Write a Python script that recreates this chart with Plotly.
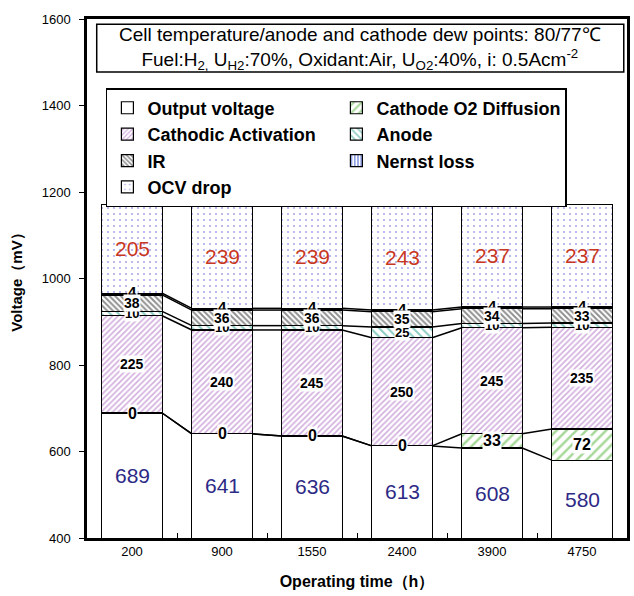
import plotly.graph_objects as go

# ---------------- data ----------------
categories = ["200", "900", "1550", "2400", "3900", "4750"]
output_voltage = [689, 641, 636, 613, 608, 580]
cathode_o2 = [0, 0, 0, 0, 33, 72]
cathodic_act = [225, 240, 245, 250, 245, 235]
anode = [10, 10, 10, 25, 10, 10]
ir_loss = [38, 36, 36, 35, 34, 33]
nernst = [4, 4, 4, 4, 4, 4]
ocv_drop = [205, 239, 239, 243, 237, 237]

series_names = ["Output voltage", "Cathode O2 Diffusion", "Cathodic Activation",
                "Anode", "IR", "Nernst loss", "OCV drop"]
series_vals = [output_voltage, cathode_o2, cathodic_act, anode, ir_loss, nernst, ocv_drop]

y_range = [400, 1600]
bar_gap = 0.33
SANS = "Liberation Sans, Arial"

patterns = [
    dict(shape=""),
    dict(shape="/", fgcolor="#4cb030", size=7, solidity=0.35, fillmode="overlay"),
    dict(shape="/", fgcolor="#a65dbd", size=4, solidity=0.4, fillmode="overlay"),
    dict(shape="\\", fgcolor="#1f9a8a", size=6, solidity=0.35, fillmode="overlay"),
    dict(shape="\\", fgcolor="#222222", size=4, solidity=0.5, fillmode="overlay"),
    dict(shape="|", fgcolor="#2244cc", size=4, solidity=0.5, fillmode="overlay"),
    dict(shape=".", fgcolor="#4a4ad0", size=6, solidity=0.09, fillmode="overlay"),
]

fig = go.Figure()
for name, vals, pat in zip(series_names, series_vals, patterns):
    fig.add_trace(go.Bar(
        x=categories, y=vals, name=name,
        marker=dict(color="white", pattern=pat, line=dict(color="black", width=1.2)),
    ))

# cumulative levels
cum = []
run = [0] * len(categories)
for vals in series_vals:
    run = [r + v for r, v in zip(run, vals)]
    cum.append(list(run))

# connectors between adjacent bars (all boundaries except top of OCV)
half = (1 - bar_gap) / 2
shapes = []
for k in range(len(series_vals) - 1):
    for i in range(len(categories) - 1):
        shapes.append(dict(type="line", xref="x", yref="y",
                           x0=i + half, x1=i + 1 - half,
                           y0=cum[k][i], y1=cum[k][i + 1],
                           line=dict(color="black", width=1.5)))

# title box
shapes.append(dict(type="rect", xref="paper", yref="paper",
                   x0=0.018, x1=0.994, y0=0.898, y1=0.990,
                   line=dict(color="black", width=1.5), fillcolor="white", layer="above"))

annotations = []
annotations.append(dict(
    xref="paper", yref="paper", x=0.506, y=0.944, xanchor="center", yanchor="middle",
    showarrow=False, align="center",
    text="Cell temperature/anode and cathode dew points: 80/77℃<br>"
         "Fuel:H<sub>2,</sub> U<sub>H2</sub>:70%, Oxidant:Air, U<sub>O2</sub>:40%, i: 0.5Acm<sup>-2</sup>",
    font=dict(family=SANS, size=19, color="black")))


def add_label(i, y, text, size, color="black", white_bg=True, bold=True):
    a = dict(x=i, y=y, xref="x", yref="y", text=f"<b>{text}</b>" if bold else str(text),
             showarrow=False, font=dict(family=SANS, size=size, color=color),
             borderpad=0, xanchor="center", yanchor="middle")
    if white_bg:
        a["bgcolor"] = "white"
    annotations.append(a)


for i in range(len(categories)):
    base = [0] + [c[i] for c in cum[:-1]]
    add_label(i, (y_range[0] + output_voltage[i]) / 2, output_voltage[i], 21,
              color="#2d2a86", white_bg=False, bold=False)
    add_label(i, base[1] + cathode_o2[i] / 2, cathode_o2[i], 16)
    add_label(i, base[2] + cathodic_act[i] / 2, cathodic_act[i], 14)
    add_label(i, base[3] + anode[i] / 2, anode[i], 13)
    add_label(i, base[5] + nernst[i] / 2 + 6, nernst[i], 15)
    add_label(i, base[4] + ir_loss[i] / 2, ir_loss[i], 14)
    add_label(i, base[6] + ocv_drop[i] / 2, ocv_drop[i], 21,
              color="#c8371f", white_bg=False, bold=False)

fig.update_layout(
    width=634, height=596,
    margin=dict(l=87, r=4, t=19, b=58),
    barmode="stack", bargap=bar_gap,
    plot_bgcolor="white", paper_bgcolor="white",
    shapes=shapes, annotations=annotations,
    showlegend=True,
    legend=dict(orientation="h", x=0.035, y=0.867, xanchor="left", yanchor="top",
                bgcolor="white", bordercolor="black", borderwidth=1.5,
                font=dict(family=SANS, size=18, color="black", weight="bold"),
                traceorder="normal", itemclick=False),
    xaxis=dict(type="category", showline=True, mirror=True, linecolor="black", linewidth=2.5,
               ticks="inside", tickson="boundaries", ticklen=5, tickcolor="black",
               tickfont=dict(family=SANS, size=13, color="black"),
               title=dict(text="<b>Operating time（h）</b>", standoff=18,
                          font=dict(family=SANS, size=16, color="black"))),
    yaxis=dict(range=y_range, dtick=200, showline=True, mirror=True, linecolor="black",
               linewidth=2.5, ticks="outside", ticklen=5, tickcolor="black",
               showgrid=False, zeroline=False, ticklabelstandoff=6,
               tickfont=dict(family=SANS, size=13, color="black"),
               title=dict(text="<b>Voltage（mV）</b>", standoff=16,
                          font=dict(family=SANS, size=15, color="black"))),
)

fig.write_html("out.html")
